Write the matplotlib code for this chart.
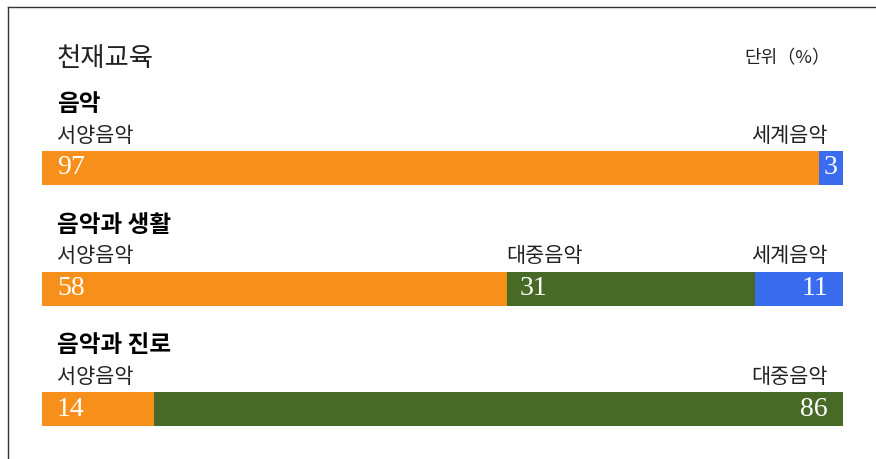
import matplotlib
matplotlib.use('Agg')
import matplotlib.pyplot as plt
from matplotlib.lines import Line2D

# 데이터
groups = ['음악', '음악과 생활', '음악과 진로']
segNames = [['서양음악', '세계음악'],
            ['서양음악', '대중음악', '세계음악'],
            ['서양음악', '대중음악']]
segValues = [[97, 3],
             [58, 31, 11],
             [14, 86]]
colorMap = {'서양음악': '#F7901A', '대중음악': '#486A27', '세계음악': '#3A6CF0'}

kr = ['Noto Sans CJK KR', 'DejaVu Sans']
num = ['Liberation Serif', 'DejaVu Serif']
txtColor = '#222222'

W, H = 876, 459
fig = plt.figure(figsize=(W / 100, H / 100), dpi=100)

# 바깥 테두리 (왼쪽, 위쪽)
fig.add_artist(Line2D([8 / W, 8 / W], [0, 1 - 7 / H], color='#333333', lw=1.0))
fig.add_artist(Line2D([8 / W, 1], [1 - 7 / H, 1 - 7 / H], color='#333333', lw=1.0))

fig.text(57 / W, 1 - 58 / H, '천재교육', family=kr, fontsize=19, color=txtColor, va='center', ha='left')
fig.text(830 / W, 1 - 58 / H, '단위（%）', family=kr, fontsize=13, color=txtColor, va='center', ha='right')

# 막대 영역
rowPx = 120.5
ytop, ybot = -0.55, 2.38
axTop = 168 + ytop * rowPx
axH = (ybot - ytop) * rowPx
ax = fig.add_axes([42 / W, 1 - (axTop + axH) / H, 801 / W, axH / H])
ax.set_xlim(0, 100)
ax.set_ylim(ybot, ytop)
ax.axis('off')

barH = 34 / rowPx
pad = 10.8  # points

for i, (g, names, vals) in enumerate(zip(groups, segNames, segValues)):
    ax.annotate(g, (0, i - 0.53), xytext=(pad, 0), textcoords='offset points',
                family=kr, fontsize=17, fontweight='bold', color='black', va='center', ha='left')
    left = 0
    n = len(vals)
    for j, (nm, v) in enumerate(zip(names, vals)):
        ax.barh(i, v, left=left, height=barH, color=colorMap[nm], edgecolor='none')
        if j == 0:
            x, ha, off, offn = left, 'left', pad, pad
        elif j == n - 1:
            x, ha, off, offn = left + v, 'right', -pad, -pad
        else:
            x, ha, off, offn = left, 'left', 0, 9
        ax.annotate(nm, (x, i - 0.266), xytext=(off, 0), textcoords='offset points',
                    family=kr, fontsize=15, color=txtColor, va='center', ha=ha)
        if v < 5:
            # 좁은 구간은 가운데에
            ax.text(left + v / 2, i, str(v), family=num, fontsize=20, color='white',
                    va='center', ha='center')
        else:
            ax.annotate(str(v), (x, i), xytext=(offn, 0), textcoords='offset points',
                        family=num, fontsize=20, color='white', va='center', ha=ha)
        left += v

fig.savefig('out.png', dpi=100)
